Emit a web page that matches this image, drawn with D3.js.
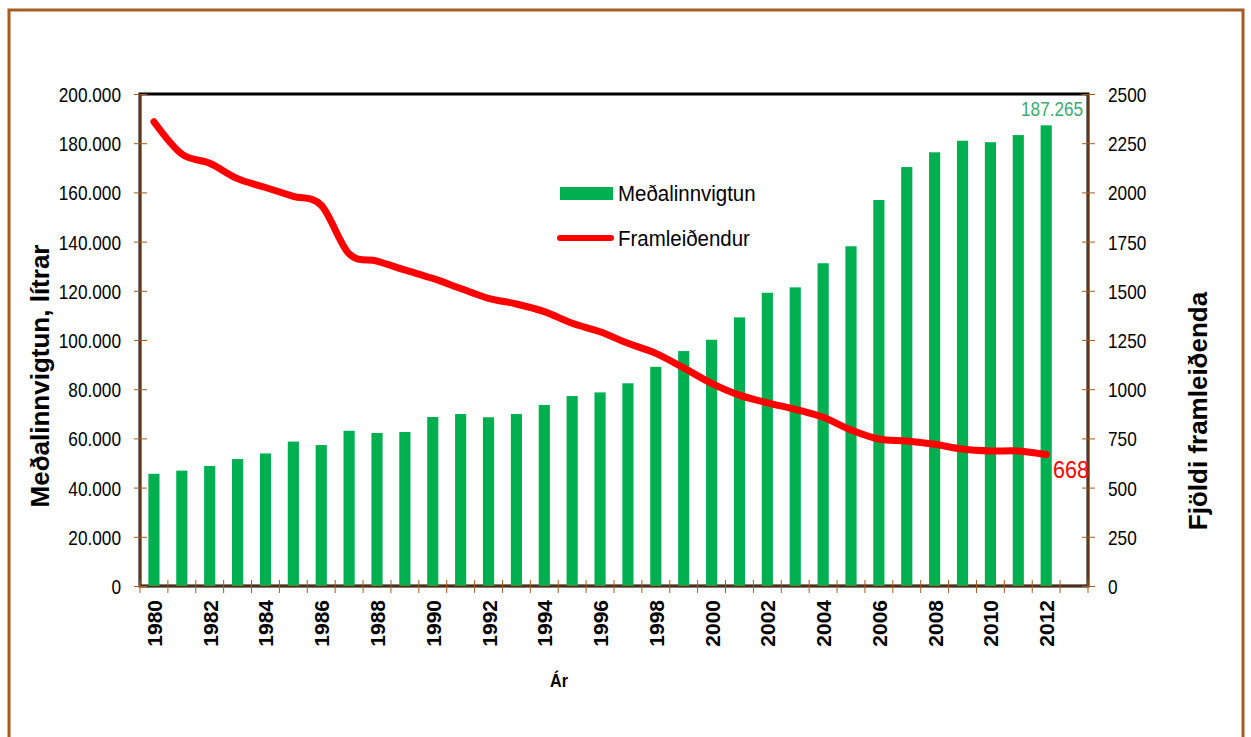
<!DOCTYPE html>
<html>
<head>
<meta charset="utf-8">
<script src="https://cdn.jsdelivr.net/npm/d3@7"></script>
<style>
  body { margin: 0; background: #fff; }
  svg { display: block; }
</style>
</head>
<body>
<script>
// DATA ––––––––––––––––––––––––––––––––––––––––––––––––––––––––––––––

var years = [1980, 1981, 1982, 1983, 1984, 1985, 1986, 1987, 1988, 1989,
             1990, 1991, 1992, 1993, 1994, 1995, 1996, 1997, 1998, 1999,
             2000, 2001, 2002, 2003, 2004, 2005, 2006, 2007, 2008, 2009,
             2010, 2011, 2012];

// average intake per producer, litres (bars, left axis)
var medalinnvigtun = [45600, 46900, 48800, 51600, 53900, 58700, 57300, 63100, 62200, 62600,
                      68700, 69900, 68600, 69900, 73600, 77200, 78700, 82400, 89100, 95500,
                      100100, 109200, 119200, 121400, 131200, 138100, 156900, 170300, 176300, 181000,
                      180400, 183300, 187265];

// number of producers (line, right axis)
var framleidendur = [2359, 2195, 2148, 2070, 2025, 1980, 1935, 1688, 1651, 1606,
                     1563, 1512, 1462, 1433, 1394, 1335, 1292, 1233, 1182, 1108,
                     1030, 970, 931, 898, 857, 793, 747, 737, 720, 696,
                     686, 686, 668];

var leftTicks = [0, 20000, 40000, 60000, 80000, 100000, 120000, 140000, 160000, 180000, 200000];
var rightTicks = [0, 250, 500, 750, 1000, 1250, 1500, 1750, 2000, 2250, 2500];
var yearLabels = [1980, 1982, 1984, 1986, 1988, 1990, 1992, 1994, 1996, 1998, 2000, 2002, 2004, 2006, 2008, 2010, 2012];

var seriesNames = ["Meðalinnvigtun", "Framleiðendur"];

// HELPERS ––––––––––––––––––––––––––––––––––––––––––––––––––––––––––

// dotted thousands: 200000 -> "200.000"
var dotFormat = function(d) {
  return d3.format(",")(d).replace(/,/g, ".");
};

// the original uses a narrow face; squeeze the glyphs horizontally
var squeeze = function(sel, k) {
  sel.each(function() {
    var w = this.getComputedTextLength();
    d3.select(this)
      .attr("textLength", w * k)
      .attr("lengthAdjust", "spacingAndGlyphs");
  });
};

// CHART ––––––––––––––––––––––––––––––––––––––––––––––––––––––––––––

var draw = function() {
  var W = 1251, H = 737,
      plot = {left: 140, right: 1088, top: 94, bottom: 586},
      brown = "#a65a1e",
      green = "#00b050",
      red = "#ff0000",
      sans = "'Liberation Sans', Arial, sans-serif";

  var svg = d3.select("body").append("svg")
      .attr("width", W)
      .attr("height", H);

  // outer frame
  svg.append("rect")
      .attr("x", 9).attr("y", 10)
      .attr("width", 1234).attr("height", 760)
      .attr("fill", "#fff")
      .attr("stroke", brown)
      .attr("stroke-width", 3);

  // one empty slot after the last year, as in the original
  var domain = years.concat([years[years.length - 1] + 1]);

  var x = d3.scaleBand()
      .domain(domain)
      .range([plot.left, plot.right])
      .paddingInner(0.6)
      .paddingOuter(0.3);

  var step = x.step(),
      edge = function(d) { return x(d) - step * 0.3; };

  var yL = d3.scaleLinear().domain([0, 200000]).range([plot.bottom, plot.top]);
  var yR = d3.scaleLinear().domain([0, 2500]).range([plot.bottom, plot.top]);

  // plot border
  svg.append("rect")
      .attr("x", plot.left).attr("y", plot.top)
      .attr("width", plot.right - plot.left)
      .attr("height", plot.bottom - plot.top)
      .attr("fill", "none")
      .attr("stroke", "#000")
      .attr("stroke-width", 3);

  // bars
  svg.append("g").selectAll("rect")
      .data(years)
    .enter().append("rect")
      .attr("x", function(d) { return x(d); })
      .attr("y", function(d, i) { return yL(medalinnvigtun[i]); })
      .attr("width", x.bandwidth())
      .attr("height", function(d, i) { return yL(0) - yL(medalinnvigtun[i]); })
      .attr("fill", green);

  // line
  var line = d3.line()
      .x(function(d, i) { return x(years[i]) + x.bandwidth() / 2; })
      .y(function(d) { return yR(d); })
      .curve(d3.curveCardinal.tension(0));

  svg.append("path")
      .datum(framleidendur)
      .attr("fill", "none")
      .attr("stroke", red)
      .attr("stroke-width", 7)
      .attr("stroke-linecap", "round")
      .attr("stroke-linejoin", "round")
      .attr("d", line);

  // axis lines (brown over the black border)
  var axisLines = [
    [plot.left, plot.top, plot.left, plot.bottom],
    [plot.left, plot.bottom, plot.right, plot.bottom],
    [plot.right, plot.top, plot.right, plot.bottom]
  ];
  svg.append("g").selectAll("line")
      .data(axisLines)
    .enter().append("line")
      .attr("x1", function(d) { return d[0]; })
      .attr("y1", function(d) { return d[1]; })
      .attr("x2", function(d) { return d[2]; })
      .attr("y2", function(d) { return d[3]; })
      .attr("stroke", brown)
      .attr("stroke-width", 1.2);

  // left axis
  var gL = svg.append("g").attr("transform", "translate(" + plot.left + ",0)")
      .call(d3.axisLeft(yL).tickValues(leftTicks).tickSizeOuter(0)
        .tickFormat(function(d) { return d === 0 ? "0" : dotFormat(d); }));
  gL.select(".domain").remove();
  gL.selectAll(".tick line").attr("x2", -6).attr("x1", 7).attr("stroke", brown);
  gL.selectAll(".tick text")
      .attr("x", -19)
      .attr("dy", "0.36em")
      .attr("fill", "#000")
      .style("font-family", sans)
      .style("font-size", "21px")
      .call(squeeze, 0.82);

  // right axis
  var gR = svg.append("g").attr("transform", "translate(" + plot.right + ",0)")
      .call(d3.axisRight(yR).tickValues(rightTicks).tickSizeOuter(0).tickFormat(d3.format("d")));
  gR.select(".domain").remove();
  gR.selectAll(".tick line").attr("x1", -6).attr("x2", 7).attr("stroke", brown);
  gR.selectAll(".tick text")
      .attr("x", 20)
      .attr("dy", "0.36em")
      .attr("fill", "#000")
      .style("font-family", sans)
      .style("font-size", "21px")
      .call(squeeze, 0.82);

  // bottom ticks at slot edges
  var edges = domain.map(edge).concat([plot.right]);
  svg.append("g").selectAll("line")
      .data(edges)
    .enter().append("line")
      .attr("x1", function(d) { return d; })
      .attr("x2", function(d) { return d; })
      .attr("y1", plot.bottom - 6)
      .attr("y2", plot.bottom + 7)
      .attr("stroke", brown)
      .attr("stroke-width", 1);

  // year labels, rotated
  svg.append("g").selectAll("text")
      .data(yearLabels)
    .enter().append("text")
      .attr("transform", function(d) {
        return "translate(" + (x(d) + x.bandwidth() / 2 + 8) + "," + (plot.bottom + 14) + ") rotate(-90)";
      })
      .attr("text-anchor", "end")
      .style("font-family", sans)
      .style("font-size", "21px")
      .style("font-weight", "bold")
      .text(function(d) { return d; });

  // axis titles
  svg.append("text")
      .attr("transform", "translate(49,376) rotate(-90)")
      .attr("text-anchor", "middle")
      .style("font-family", sans)
      .style("font-size", "26px")
      .style("font-weight", "bold")
      .text("Meðalinnvigtun, lítrar");

  svg.append("text")
      .attr("transform", "translate(1207,411) rotate(-90)")
      .attr("text-anchor", "middle")
      .style("font-family", sans)
      .style("font-size", "26px")
      .style("font-weight", "bold")
      .text("Fjöldi framleiðenda");

  svg.append("text")
      .attr("x", 550).attr("y", 687)
      .style("font-family", sans)
      .style("font-size", "19px")
      .style("font-weight", "bold")
      .text("Ár")
      .call(squeeze, 0.85);

  // data labels on last points
  var last = years.length - 1;
  svg.append("text")
      .attr("x", 1021)
      .attr("y", yL(medalinnvigtun[last]) - 9)
      .attr("fill", "#3daa6e")
      .style("font-family", sans)
      .style("font-size", "20px")
      .text(dotFormat(medalinnvigtun[last]))
      .call(squeeze, 0.86);

  svg.append("text")
      .attr("x", 1053)
      .attr("y", yR(framleidendur[last]) + 23)
      .attr("fill", red)
      .style("font-family", sans)
      .style("font-size", "24px")
      .text(framleidendur[last])
      .call(squeeze, 0.9);

  // legend
  var lg = svg.append("g").attr("transform", "translate(558,0)");
  lg.append("rect")
      .attr("x", 2).attr("y", 187)
      .attr("width", 53).attr("height", 13)
      .attr("fill", green);
  lg.append("line")
      .attr("x1", 2).attr("x2", 53)
      .attr("y1", 238).attr("y2", 238)
      .attr("stroke", red)
      .attr("stroke-width", 6)
      .attr("stroke-linecap", "round");
  lg.selectAll("text.leg")
      .data(seriesNames)
    .enter().append("text")
      .attr("class", "leg")
      .attr("x", 60)
      .attr("y", function(d, i) { return 201 + i * 45; })
      .style("font-family", sans)
      .style("font-size", "22px")
      .text(function(d) { return d; })
      .call(squeeze, 0.93);
};

draw();
</script>
</body>
</html>
